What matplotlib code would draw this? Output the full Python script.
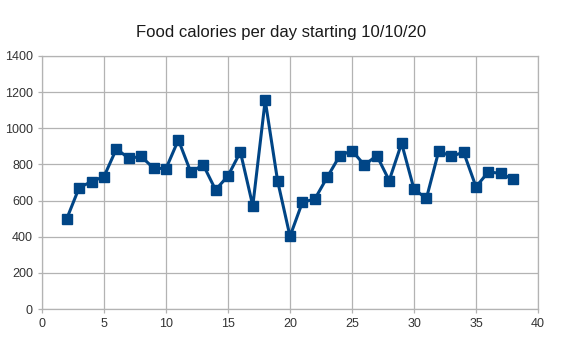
import matplotlib
matplotlib.use("Agg")
import matplotlib.pyplot as plt

plt.rcParams['font.family'] = ['Liberation Sans', 'DejaVu Sans']

days = list(range(2, 39))
calories = [500, 672, 705, 733, 886, 834, 844, 779, 777, 936,
            757, 798, 659, 737, 869, 571, 1155, 709, 402, 591,
            608, 729, 847, 877, 796, 849, 711, 917, 663, 612,
            875, 844, 868, 676, 759, 750, 717]

fig = plt.figure(figsize=(5.62, 3.4), dpi=100)
ax = fig.add_axes([42 / 562, 1 - 309 / 340, (538 - 42) / 562, (309 - 56) / 340])

ax.plot(days, calories, color='#004586', linewidth=2.2, marker='s',
        markersize=7.8, zorder=3)

ax.set_xlim(0, 40)
ax.set_ylim(0, 1400)
ax.set_xticks(range(0, 41, 5))
ax.set_yticks(range(0, 1401, 200))
ax.grid(True, color='#b3b3b3', linewidth=0.9)
for s in ax.spines.values():
    s.set_color('#b3b3b3')
    s.set_linewidth(0.9)
ax.tick_params(colors='#b3b3b3', labelcolor='#333333', labelsize=9, length=3, width=0.9)

fig.text(0.5, 1 - 33 / 340, "Food calories per day starting 10/10/20",
         ha='center', va='center', fontsize=12, color='#1a1a1a')

fig.savefig("out.png", dpi=100)
